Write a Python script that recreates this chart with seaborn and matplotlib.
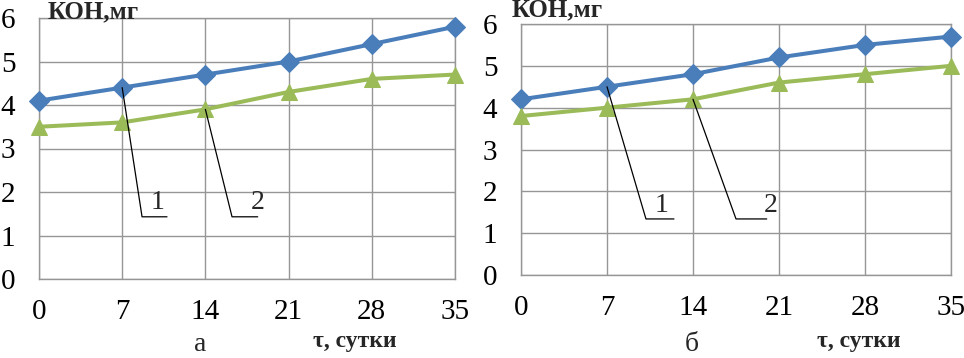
import numpy as np
import pandas as pd
import matplotlib
matplotlib.use('Agg')
import matplotlib.pyplot as plt
import seaborn as sns

# данные: время хранения и кислотное число (мг КОН)
days = [0, 7, 14, 21, 28, 35]
a_curve1 = [4.1, 4.4, 4.7, 5.0, 5.4, 5.8]
a_curve2 = [3.5, 3.6, 3.9, 4.3, 4.6, 4.7]
b_curve1 = [4.2, 4.5, 4.8, 5.2, 5.5, 5.7]
b_curve2 = [3.8, 4.0, 4.2, 4.6, 4.8, 5.0]
y_ticks = [0, 1, 2, 3, 4, 5, 6]

sns.set_style('white')
plt.rcParams['font.family'] = ['Liberation Serif', 'DejaVu Serif']

blue = '#4a7ebb'
green = '#9bbb59'
grid_c = '#969696'

fig = plt.figure(figsize=(9.64, 3.58), dpi=100)
W, H = 964, 358


def make_axes(left, right, top, bottom):
    return fig.add_axes([left / W, 1 - bottom / H, (right - left) / W, (bottom - top) / H])


ax_a = make_axes(39, 455, 18, 279)
ax_b = make_axes(521, 951, 24, 275)

panels = [
    (ax_a, a_curve1, a_curve2,
     [(7, 4.4, 8.67, 10.77, 1.43, 10.0, '1'), (14, 3.9, 16.24, 18.4, 1.43, 18.4, '2')]),
    (ax_b, b_curve1, b_curve2,
     [(7, 4.5, 10.17, 12.45, 1.34, 11.4, '1'), (14, 4.2, 17.5, 20.0, 1.34, 20.35, '2')]),
]

for ax, c1, c2, leaders in panels:
    sns.lineplot(x=days, y=c1, ax=ax, color=blue, lw=2.9, marker='D', markersize=10.5,
                 markeredgecolor=blue, zorder=3, clip_on=False)
    sns.lineplot(x=days, y=c2, ax=ax, color=green, lw=2.9, marker='^', markersize=12,
                 markeredgecolor=green, zorder=3, clip_on=False)
    ax.set_xlim(0, 35)
    ax.set_ylim(0, 6)
    ax.set_xticks(days)
    ax.set_yticks(y_ticks)
    ax.grid(True, color=grid_c, lw=1)
    for s in ax.spines.values():
        s.set_color(grid_c)
        s.set_linewidth(1)
    ax.tick_params(axis='both', direction='out', color=grid_c, width=1,
                   labelsize=21, labelcolor='black')
    ax.tick_params(axis='y', length=5, pad=12)
    ax.tick_params(axis='x', length=6.5, pad=8)
    ax.set_xlabel('')
    ax.set_ylabel('')
    for x0, y0, x1, x2, yl, xt, lab in leaders:
        ax.plot([x0, x1, x2], [y0, yl, yl], color='black', lw=0.9, zorder=4, clip_on=False)
        ax.text(xt, yl + 0.03, lab, fontsize=20, ha='center', va='bottom')

# подписи осей и панелей
fig.text(48 / W, 1 - 12 / H, 'КОН,мг', fontsize=18, fontweight='bold', va='center', ha='left')
fig.text(512 / W, 1 - 10 / H, 'КОН,мг', fontsize=18, fontweight='bold', va='center', ha='left')
fig.text(313 / W, 1 - 341 / H, 'τ, сутки', fontsize=17, fontweight='bold', va='center', ha='left')
fig.text(817 / W, 1 - 341 / H, 'τ, сутки', fontsize=17, fontweight='bold', va='center', ha='left')
fig.text(200 / W, 1 - 351 / H, 'а', fontsize=20, va='baseline', ha='center')
fig.text(692 / W, 1 - 351 / H, 'б', fontsize=20, va='baseline', ha='center')

fig.savefig('out.png', dpi=100)
